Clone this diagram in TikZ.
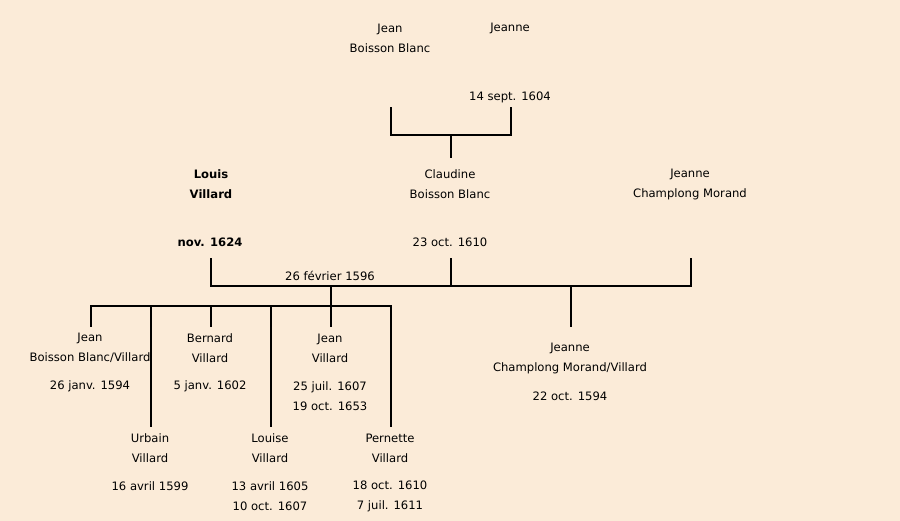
\documentclass[tikz,border=0pt]{standalone}
\usepackage{fontspec}
\setmainfont{DejaVu Sans}
\definecolor{bg}{HTML}{FBEBD8}
\begin{document}
\begin{tikzpicture}[x=1pt,y=-1pt,
  txt/.style={align=center,inner sep=0pt,font=\fontsize{11.6}{20}\selectfont},
  btxt/.style={txt,font=\fontsize{11.6}{20}\selectfont\bfseries},
  ln/.style={line width=2pt,line cap=rect}]
\fill[bg] (0,0) rectangle (900,521);
\useasboundingbox (0,0) rectangle (900,521);
% grandparents
\node[txt] (jeanBB) at (390,38) {Jean\\Boisson Blanc};
\node[txt] (jeanneG) at (510,28) {Jeanne};
\node[txt] (dGP) at (510,97) {14 sept. 1604};
% parents generation
\node[btxt] (louis) at (211,184) {Louis\\Villard};
\node[btxt] (dLouis) at (210,242) {nov. 1624};
\node[txt] (claudine) at (450,184) {Claudine\\Boisson Blanc};
\node[txt] (dClaud) at (450,242) {23 oct. 1610};
\node[txt] (jeanneCM) at (690,184) {Jeanne\\Champlong Morand};
\node[txt] (dMar) at (330,276) {26 février 1596};
% children
\node[txt] (c1) at (90,348) {Jean\\Boisson Blanc/Villard};
\node[txt] (d1) at (90,386) {26 janv. 1594};
\node[txt] (c3) at (210,348) {Bernard\\Villard};
\node[txt] (d3) at (210,386) {5 janv. 1602};
\node[txt] (c5) at (330,348) {Jean\\Villard};
\node[txt] (d5) at (330,396) {25 juil. 1607\\19 oct. 1653};
\node[txt] (c2) at (150,448) {Urbain\\Villard};
\node[txt] (d2) at (150,486) {16 avril 1599};
\node[txt] (c4) at (270,448) {Louise\\Villard};
\node[txt] (d4) at (270,496) {13 avril 1605\\10 oct. 1607};
\node[txt] (c6) at (390,448) {Pernette\\Villard};
\node[txt] (d6) at (390,496) {18 oct. 1610\\7 juil. 1611};
\node[txt] (cj) at (570,358) {Jeanne\\Champlong Morand/Villard};
\node[txt] (dj) at (570,396) {22 oct. 1594};
% connector coordinates
\coordinate (gA) at (391,108);
\coordinate (gB) at (511,108);
\coordinate (gA2) at (391,135);
\coordinate (gB2) at (511,135);
\coordinate (gM) at (451,135);
\coordinate (gC) at (451,157);
\coordinate (pL) at (211,259);
\coordinate (pL2) at (211,286);
\coordinate (pC) at (451,259);
\coordinate (pR) at (691,259);
\coordinate (pR2) at (691,286);
\coordinate (mA) at (331,286);
\coordinate (mB) at (571,286);
\coordinate (kA) at (331,306);
\coordinate (kL) at (91,306);
\coordinate (kR) at (391,306);
\coordinate (k1) at (91,326);
\coordinate (k2) at (151,426);
\coordinate (k3) at (211,326);
\coordinate (k4) at (271,426);
\coordinate (k5) at (331,326);
\coordinate (k6) at (391,426);
\coordinate (kj) at (571,326);
% connectors
\draw[ln] (gA) -- (gA2) -- (gB2) -- (gB);
\draw[ln] (gM) -- (gC);
\draw[ln] (pL) -- (pL2) -- (pR2) -- (pR);
\draw[ln] (pC) -- (pC |- pL2);
\draw[ln] (mA) -- (kA);
\draw[ln] (mB) -- (kj);
\draw[ln] (kL) -- (kR);
\draw[ln] (kL) -- (k1);
\draw[ln] (k2 |- kL) -- (k2);
\draw[ln] (k3 |- kL) -- (k3);
\draw[ln] (k4 |- kL) -- (k4);
\draw[ln] (k5 |- kL) -- (k5);
\draw[ln] (kR) -- (k6);
\end{tikzpicture}
\end{document}
